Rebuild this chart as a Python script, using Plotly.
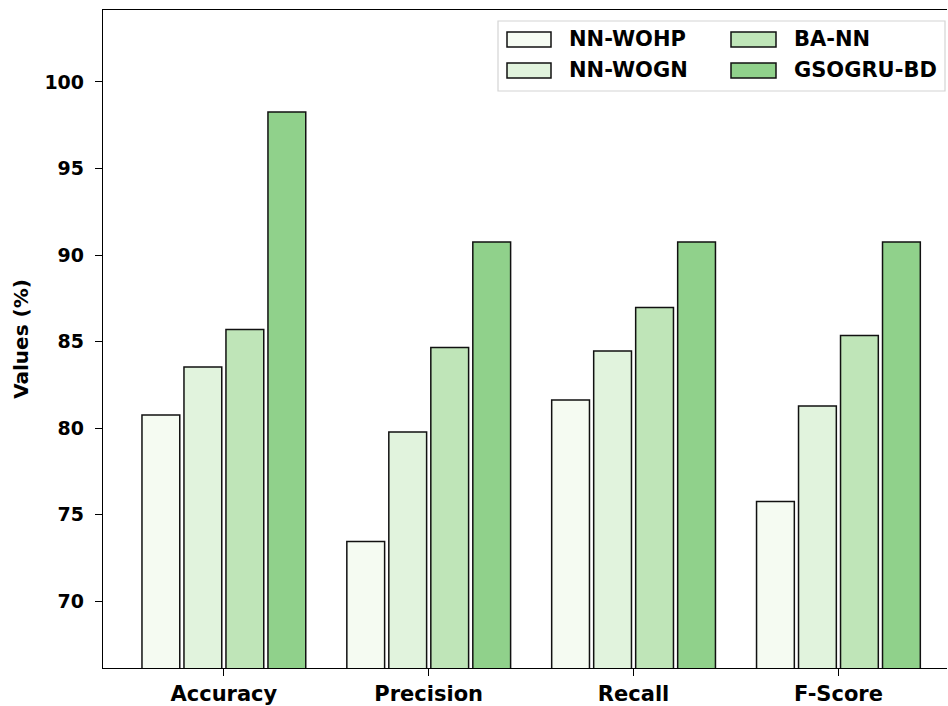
import plotly.graph_objects as go

categories = ["Accuracy", "Precision", "Recall", "F-Score"]
series_names = ["NN-WOHP", "NN-WOGN", "BA-NN", "GSOGRU-BD"]
nn_wohp = [80.75, 73.44, 81.62, 75.75]
nn_wogn = [83.53, 79.77, 84.45, 81.27]
ba_nn = [85.69, 84.65, 86.97, 85.35]
gsogru_bd = [98.27, 90.75, 90.75, 90.75]
y_ticks = [70, 75, 80, 85, 90, 95, 100]

colors = ["#f5fbf2", "#e1f3dd", "#bfe5b8", "#90d18b"]
values = [nn_wohp, nn_wogn, ba_nn, gsogru_bd]

font_fam = "DejaVu Sans"

fig = go.Figure()
for name, vals, col in zip(series_names, values, colors):
    fig.add_trace(go.Bar(
        x=categories, y=vals, name=name, showlegend=False,
        marker=dict(color=col, line=dict(color="#111111", width=1.5)),
    ))

# manual legend (2 columns, column-major like the reference)
# plot area in px: x 103..947, y 10..668
def px(sx):
    return (sx - 103) / 844.0

def py(sy):
    return (668 - sy) / 658.0

shapes = [dict(type="rect", xref="paper", yref="paper",
               x0=px(498), x1=px(945), y0=py(91), y1=py(21),
               line=dict(color="#d4d4d4", width=1.2), fillcolor="rgba(255,255,255,0.85)",
               layer="above")]
annotations = []
col_patch_x = [(507, 551), (731, 776)]
col_text_x = [567, 792]
row_y = [(32, 47), (63, 78)]
for i, (name, col) in enumerate(zip(series_names, colors)):
    c, r = divmod(i, 2)
    shapes.append(dict(type="rect", xref="paper", yref="paper",
                       x0=px(col_patch_x[c][0]), x1=px(col_patch_x[c][1]),
                       y0=py(row_y[r][1]), y1=py(row_y[r][0]),
                       line=dict(color="#111111", width=1.5), fillcolor=col, layer="above"))
    annotations.append(dict(xref="paper", yref="paper", x=px(col_text_x[c]),
                            y=py((row_y[r][0] + row_y[r][1]) / 2 - 0.5),
                            xanchor="left", yanchor="middle", showarrow=False,
                            text="<b>%s</b>" % name,
                            font=dict(family=font_fam, size=21, color="black")))

fig.update_layout(
    width=948, height=706,
    margin=dict(l=103, r=1, t=10, b=38),
    paper_bgcolor="white", plot_bgcolor="white",
    barmode="group", bargap=0.18, bargroupgap=0.1,
    font=dict(family=font_fam, size=15, color="black"),
    showlegend=False,
    shapes=shapes, annotations=annotations,
    xaxis=dict(
        range=[-0.59, 3.53], showline=True, linecolor="black", linewidth=1.3,
        mirror=True, ticks="outside", ticklen=7, tickcolor="black",
        tickfont=dict(family=font_fam, size=21, color="black", weight="bold"),
        showgrid=False,
    ),
    yaxis=dict(
        range=[66.13, 104.16], showline=True, linecolor="black", linewidth=1.3,
        mirror=False, ticks="outside", ticklen=7, tickcolor="black",
        tickvals=y_ticks, ticktext=[str(t) for t in y_ticks],
        tickfont=dict(family=font_fam, size=19, color="black", weight="bold"),
        ticklabelstandoff=7,
        showgrid=False, zeroline=False,
        title=dict(text="<b>Values (%)</b>", font=dict(family=font_fam, size=20, color="black"), standoff=10),
    ),
)
fig.write_html(
    "out.html",
    config={"responsive": False, "displayModeBar": False},
    post_script="document.body.style.margin='0';document.body.style.overflow='hidden';",
)
